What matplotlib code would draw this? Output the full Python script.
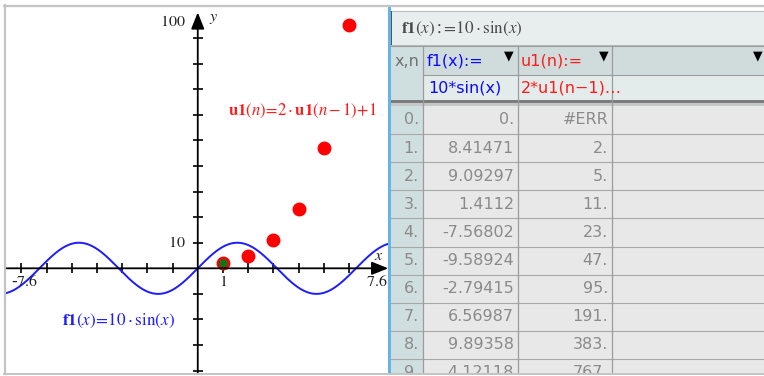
import numpy as np
import matplotlib
matplotlib.use("Agg")
import matplotlib.pyplot as plt
from matplotlib.patches import Rectangle

plt.rcParams["mathtext.fontset"] = "stix"

# данные графика
f1_amp = 10                      # f1(x) = 10*sin(x)
u1_n = [1, 2, 3, 4, 5, 6, 7]
u1_vals = [2, 5, 11, 23, 47, 95, 191]
x_ticks = [-7, -6, -5, -4, -3, -2, -1, 1, 2, 3, 4, 5, 6, 7]
y_ticks = [-40, -30, -20, -10, 10, 20, 30, 40, 50, 60, 70, 80, 90]

# данные таблицы
row_labels = ["0.", "1.", "2.", "3.", "4.", "5.", "6.", "7.", "8.", "9."]
f1_col = ["0.", "8.41471", "9.09297", "1.4112", "-7.56802", "-9.58924",
          "-2.79415", "6.56987", "9.89358", "4.12118"]
u1_col = ["#ERR", "2.", "5.", "11.", "23.", "47.", "95.", "191.", "383.", "767."]

W, H = 764, 376
fig = plt.figure(figsize=(W / 100, H / 100), dpi=100)

# фон и рамка (координаты в пикселях)
bg = fig.add_axes([0, 0, 1, 1])
bg.set_xlim(0, W)
bg.set_ylim(H, 0)
bg.axis("off")

# --- график ---
ax = fig.add_axes([5 / W, 2 / H, 384 / W, 368 / H])
ax.patch.set_visible(False)
ax.axis("off")
x0, x1 = -7.65, 7.59
ax.set_xlim(x0, x1)
ax.set_ylim(-41.3, 102.5)

ax.annotate("", xy=(7.56, 0), xytext=(x0, 0),
            arrowprops=dict(arrowstyle="-|>,head_length=10,head_width=4", mutation_scale=1,
                            color="black", lw=1.3, shrinkA=0, shrinkB=0))
ax.annotate("", xy=(0, 100), xytext=(0, -41.3),
            arrowprops=dict(arrowstyle="-|>,head_length=10,head_width=4", mutation_scale=1,
                            color="black", lw=1.3, shrinkA=0, shrinkB=0))
ax.plot(x_ticks, [0] * len(x_ticks), ls="none", marker="|", ms=7, mew=1.2, color="black")
ax.plot([0] * len(y_ticks), y_ticks, ls="none", marker="_", ms=7, mew=1.2, color="black")

xs = np.linspace(x0, x1, 600)
ax.plot(xs, f1_amp * np.sin(xs), color="#1c1cff", lw=1.4)

ax.plot(u1_n, u1_vals, ls="none", marker="o", ms=9, color="#ff0000", clip_on=True)
ax.plot(u1_n[0], u1_vals[0], ls="none", marker="o", ms=5.5, color="#1a6e1a")

tk = dict(fontsize=11.5, color="#222222")
ax.text(-0.48, 96.5, "$100$", ha="right", va="center", **tk)
ax.text(0.45, 97.5, "$y$", ha="left", va="center", **tk)
ax.text(-0.48, 10.2, "$10$", ha="right", va="center", **tk)
ax.text(7.2, 5.2, "$x$", ha="center", va="center", **tk)
ax.text(-7.42, -5.0, "-$7.6$", ha="left", va="center", **tk)
ax.text(7.52, -5.0, "$7.6$", ha="right", va="center", **tk)
ax.text(1, -5.0, "$1$", ha="center", va="center", **tk)

ax.text(1.22, 61.5, r"$\mathbf{u1}(n)\!=\!2\cdot\mathbf{u1}(n-1)\!+\!1$",
        color="#ff1a1a", fontsize=12, ha="left", va="center")
ax.text(-5.38, -20.5, r"$\mathbf{f1}(x)\!=\!10\cdot\sin(x)$",
        color="#1c1cff", fontsize=12.3, ha="left", va="center")

# --- таблица ---
sh = fig.add_axes([388 / W, 2 / H, 376 / W, 372 / H])
sh.set_xlim(388, W)
sh.set_ylim(374, 2)
sh.axis("off")

grid = "#9c9c9c"
sh.add_patch(Rectangle((390, 11), 380, 34, fc="#e8eeee", ec="#b4bcbc", lw=0.8))
sh.add_patch(Rectangle((390, 11), 2, 34, fc="#555555", ec="none"))
sh.text(401, 28.5, "$\\mathbf{f1}(x)\u2236\\!=\\!10\\cdot\\sin(x)$", color="#4a4a4a",
        fontsize=12.3, ha="left", va="center")

col_x = [390, 423, 518, 612, 770]
# шапка
sh.add_patch(Rectangle((390, 46), 33, 54, fc="#cfdede", ec="none"))
for i in range(1, 4):
    sh.add_patch(Rectangle((col_x[i], 46), col_x[i + 1] - col_x[i], 28.5, fc="#d0dcdc", ec="none"))
    sh.add_patch(Rectangle((col_x[i], 74.5), col_x[i + 1] - col_x[i], 25.5, fc="#e3ebeb", ec="none"))
sh.plot([423, W], [74.5, 74.5], color=grid, lw=0.8)
sh.plot([390, W], [45.5, 45.5], color=grid, lw=0.8)
sh.add_patch(Rectangle((390, 100), 380, 3, fc="#7c7c7c", ec="none"))
sh.add_patch(Rectangle((390, 103), 380, 3, fc="#c4c8c8", ec="none"))

sans = dict(family="DejaVu Sans", fontsize=11.5)
sh.text(406.5, 61, "x,n", color="#707070", ha="center", va="center", **sans)
sh.text(427, 61, "f1(x):=", color="#0a0aff", ha="left", va="center", **sans)
sh.text(428, 88, "10*sin(x)", color="#0a0aff", ha="left", va="center", **sans)
sh.text(521, 61, "u1(n):=", color="#ff1a1a", ha="left", va="center", **sans)
sh.text(521, 88, "2*u1(n\u22121)\u2026", color="#ff1a1a", ha="left", va="center", **sans)
for tx in [509, 604, 758]:
    sh.text(tx, 56, "\u25bc", color="black", ha="center", va="center", family="DejaVu Sans", fontsize=9)

# строки данных
row_h = 28.1
for k, (lab, fv, uv) in enumerate(zip(row_labels, f1_col, u1_col)):
    top = 106 + k * row_h
    sh.add_patch(Rectangle((390, top), 33, row_h, fc="#cfdede", ec="none"))
    sh.add_patch(Rectangle((423, top), 350, row_h, fc="#e8e8e8", ec="none"))
    sh.plot([390, W], [top + row_h, top + row_h], color="#a8a8a8", lw=0.8)
    cy = top + 14
    sh.text(419, cy, lab, color="#8a8a8a", ha="right", va="center", clip_on=True, **sans)
    sh.text(514, cy, fv, color="#8a8a8a", ha="right", va="center", clip_on=True, **sans)
    sh.text(608, cy, uv, color="#8a8a8a", ha="right", va="center", clip_on=True, **sans)

for cx in col_x[1:4]:
    sh.plot([cx, cx], [46, 374], color=grid, lw=0.9)

# рамка и разделитель
bg.add_patch(Rectangle((388, 5), 2.5, 369, fc="#62b5e5", ec="none", zorder=5))
bg.plot([4, W], [5.5, 5.5], color="#c4c4c4", lw=1.6, zorder=6)
bg.plot([4.5, 4.5], [5, 374], color="#c4c4c4", lw=1.6, zorder=6)
bg.plot([4, W], [374, 374], color="#c4c4c4", lw=1.4, zorder=6)
bg.set_zorder(3)
bg.patch.set_visible(False)

fig.savefig("out.png", dpi=100, facecolor="white")
